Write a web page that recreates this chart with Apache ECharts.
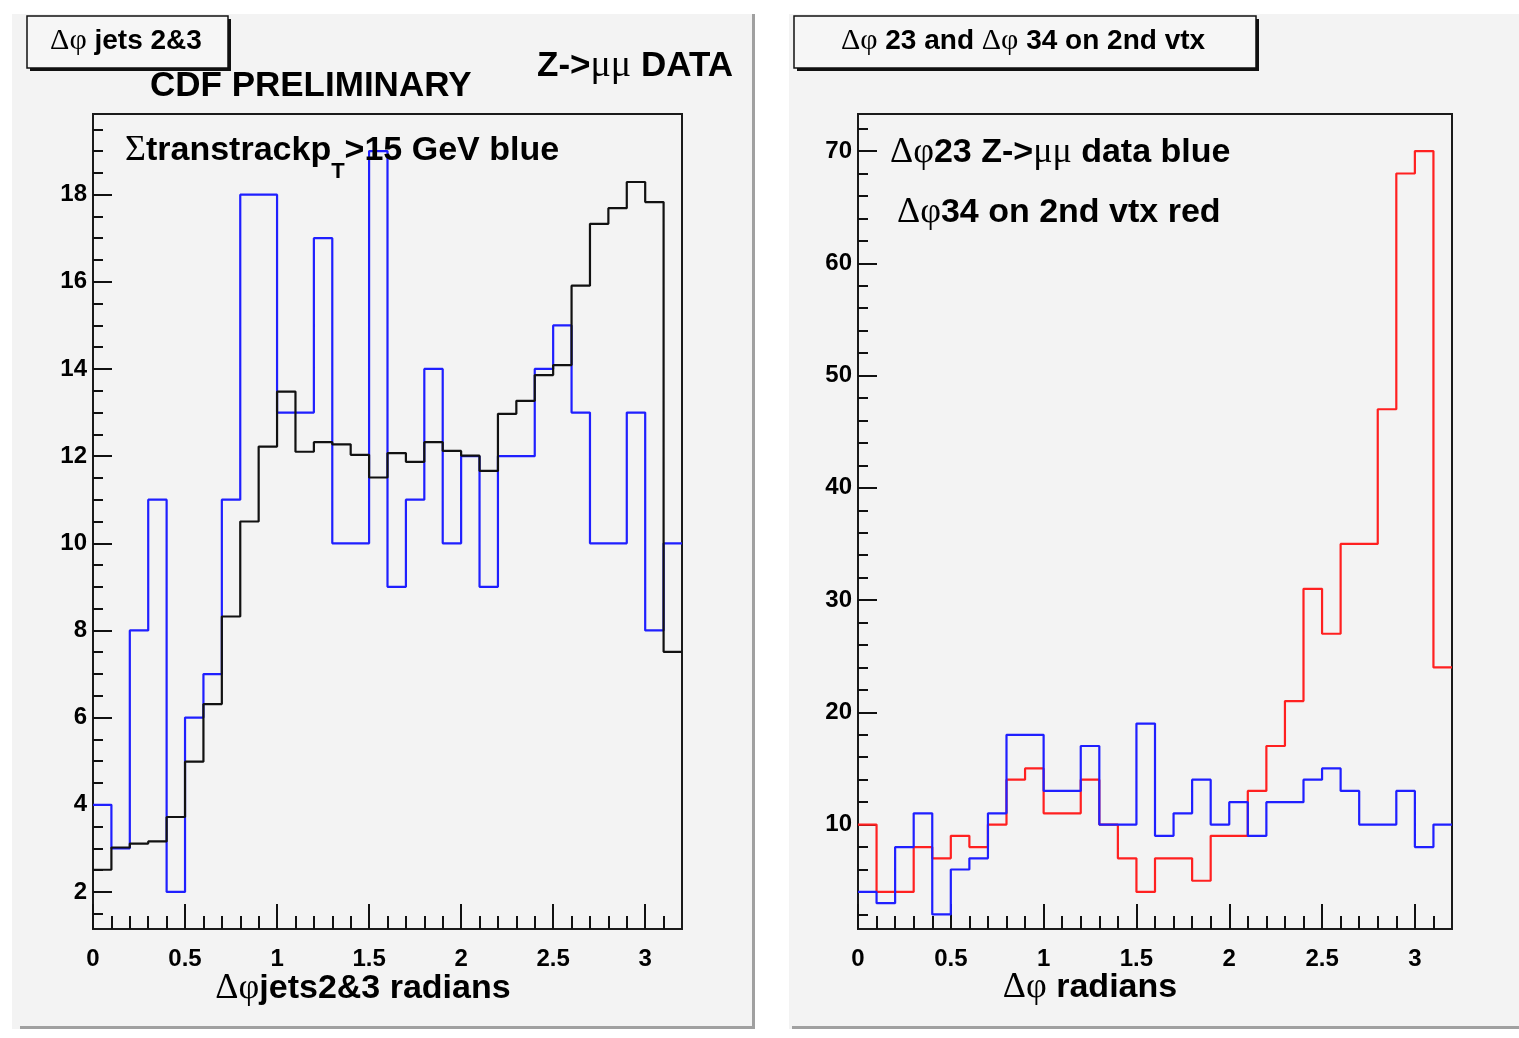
<!DOCTYPE html>
<html><head><meta charset="utf-8">
<script src="https://cdn.jsdelivr.net/npm/echarts@6/dist/echarts.min.js"></script>
<style>html,body{margin:0;padding:0;background:#fff}#c{width:1519px;height:1038px}</style>
</head><body><div id="c"></div>
<script>
// ---- data (bin lower edges, 0.1 rad wide bins) ----
const binLow = [0.0,0.1,0.2,0.3,0.4,0.5,0.6,0.7,0.8,0.9,1.0,1.1,1.2,1.3,1.4,1.5,1.6,1.7,1.8,1.9,2.0,2.1,2.2,2.3,2.4,2.5,2.6,2.7,2.8,2.9,3.0,3.1];
const binHigh = 3.2;
// left panel
const leftBlue  = [4,3,8,11,2,6,7,11,18,18,13,13,17,10,10,19,9,11,14,10,12,9,12,12,14,15,13,10,10,13,8,10];
const leftBlack = [2.51,3.02,3.11,3.16,3.72,4.99,6.31,8.32,10.50,12.22,13.48,12.10,12.32,12.27,12.03,11.51,12.07,11.87,12.32,12.12,12.01,11.66,12.97,13.27,13.86,14.09,15.91,17.33,17.69,18.29,17.83,7.51];
// right panel
const rightRed  = [10,4,4,8,7,9,8,10,14,15,11,11,14,10,7,4,7,7,5,9,9,13,17,21,31,27,35,35,47,68,70,24];
const rightBlue = [4,3,8,11,2,6,7,11,18,18,13,13,17,10,10,19,9,11,14,10,12,9,12,12,14,15,13,10,10,13,8,10];
// ticks
const xMajorTicks = [0,0.5,1,1.5,2,2.5,3];
const xMinorTicks = [0.1,0.2,0.3,0.4,0.6,0.7,0.8,0.9,1.1,1.2,1.3,1.4,1.6,1.7,1.8,1.9,2.1,2.2,2.3,2.4,2.6,2.7,2.8,2.9,3.1];
const yMajorLeft = [2,4,6,8,10,12,14,16,18];
const yMinorLeft = [1.5,2.5,3,3.5,4.5,5,5.5,6.5,7,7.5,8.5,9,9.5,10.5,11,11.5,12.5,13,13.5,14.5,15,15.5,16.5,17,17.5,18.5,19,19.5];
const yMajorRight = [10,20,30,40,50,60,70];
const yMinorRight = [2,4,6,8,12,14,16,18,22,24,26,28,32,34,36,38,42,44,46,48,52,54,56,58,62,64,66,68,72];
const leftRange = [1.15, 19.85];
const rightRange = [0.7, 73.3];

function hist(vals){ const d = binLow.map((x,i)=>[x, vals[i]]); d.push([binHigh, vals[vals.length-1]]); return d; }

const FONT = 'Liberation Sans';
const GREEK = 'Liberation Serif';
const labelStyle = {color:'#000', fontFamily:FONT, fontWeight:'bold', fontSize:24};

function xAxes(g){
  return [
    {gridIndex:g, type:'value', min:0, max:binHigh, position:'bottom',
     axisLine:{show:false}, splitLine:{show:false},
     axisTick:{show:true, inside:true, length:25, customValues:xMajorTicks, lineStyle:{color:'#111', width:2}},
     axisLabel:Object.assign({show:true, margin:18, customValues:xMajorTicks}, labelStyle)},
    {gridIndex:g, type:'value', min:0, max:binHigh, position:'bottom',
     axisLine:{show:false}, splitLine:{show:false},
     axisTick:{show:true, inside:true, length:13, customValues:xMinorTicks, lineStyle:{color:'#111', width:2}},
     axisLabel:{show:false}}
  ];
}
function yAxes(g, range, major, minor){
  return [
    {gridIndex:g, type:'value', min:range[0], max:range[1], position:'left',
     axisLine:{show:false}, splitLine:{show:false},
     axisTick:{show:true, inside:true, length:19, customValues:major, lineStyle:{color:'#111', width:2}},
     axisLabel:Object.assign({show:true, margin:6, customValues:major}, labelStyle)},
    {gridIndex:g, type:'value', min:range[0], max:range[1], position:'left',
     axisLine:{show:false}, splitLine:{show:false},
     axisTick:{show:true, inside:true, length:10, customValues:minor, lineStyle:{color:'#111', width:2}},
     axisLabel:{show:false}}
  ];
}
function line(xi, yi, data, color, z){
  return {type:'line', xAxisIndex:xi, yAxisIndex:yi, data:hist(data), step:'end', symbol:'none',
          lineStyle:{color:color, width:2.2}, z:z, silent:true, animation:false};
}
function txt(x, y, text, size, align, rich, extra){
  return Object.assign({type:'text', z:100, x:x, y:y, style:{text:text, fontFamily:FONT, fontWeight:'bold', fontSize:size,
    fill:'#000', align:align||'left', verticalAlign:'middle', rich:rich||{}}}, extra||{});
}
function gr(size){ return {g:{fontFamily:GREEK, fontWeight:'normal', fontSize:size, fill:'#000'}}; }

const chart = echarts.init(document.getElementById('c'), null, {renderer:'canvas'});
chart.setOption({
  animation:false,
  backgroundColor:'#ffffff',
  grid:[
    {left:93, top:114, width:589, height:815, show:true, borderColor:'#1a1a1a', borderWidth:2, backgroundColor:'transparent', containLabel:false},
    {left:858, top:114, width:594, height:815, show:true, borderColor:'#1a1a1a', borderWidth:2, backgroundColor:'transparent', containLabel:false}
  ],
  xAxis: xAxes(0).concat(xAxes(1)),
  yAxis: yAxes(0, leftRange, yMajorLeft, yMinorLeft).concat(yAxes(1, rightRange, yMajorRight, yMinorRight)),
  series:[
    line(0,0,leftBlue,'#1f1fff',3),
    line(0,0,leftBlack,'#111111',4),
    line(2,2,rightRed,'#ff2020',3),
    line(2,2,rightBlue,'#1f1fff',4)
  ],
  graphic:[
    // pads
    {type:'rect', z:-10, shape:{x:12,y:14,width:743,height:1015}, style:{fill:'#f3f3f3'}},
    {type:'rect', z:-9, shape:{x:752,y:14,width:3,height:1015}, style:{fill:'#a0a0a0'}},
    {type:'rect', z:-9, shape:{x:20,y:1026,width:735,height:3}, style:{fill:'#a0a0a0'}},
    {type:'rect', z:-10, shape:{x:789,y:14,width:730,height:1015}, style:{fill:'#f3f3f3'}},
    {type:'rect', z:-9, shape:{x:792,y:1026,width:727,height:3}, style:{fill:'#a0a0a0'}},
    // title boxes
    {type:'rect', z:50, shape:{x:30,y:19,width:201,height:52}, style:{fill:'#111'}},
    {type:'rect', z:51, shape:{x:27,y:16,width:201,height:52}, style:{fill:'#f6f6f6', stroke:'#111', lineWidth:1.5}},
    {type:'rect', z:50, shape:{x:797,y:19,width:462,height:52}, style:{fill:'#111'}},
    {type:'rect', z:51, shape:{x:794,y:16,width:462,height:52}, style:{fill:'#f6f6f6', stroke:'#111', lineWidth:1.5}},
    // texts
    txt(126, 41, '{g|Δφ} jets 2&3', 28, 'center', gr(30)),
    txt(1023, 41, '{g|Δφ} 23 and {g|Δφ} 34 on 2nd vtx', 28, 'center', gr(30)),
    txt(150, 86, 'CDF PRELIMINARY', 35, 'left'),
    txt(537, 66, 'Z->{g|μμ} DATA', 35, 'left', gr(38)),
    txt(125, 151, '{g|Σ}transtrackp{s|T}>15 GeV blue', 34, 'left',
        {g:{fontFamily:GREEK, fontWeight:'normal', fontSize:36, fill:'#000'},
         s:{fontFamily:FONT, fontWeight:'bold', fontSize:22, fill:'#000', padding:[42,0,0,0]}}),
    txt(890, 153, '{g|Δφ}23 Z->{g|μμ} data blue', 34, 'left', gr(36)),
    txt(897, 213, '{g|Δφ}34 on 2nd vtx red', 34, 'left', gr(36)),
    txt(363, 989, '{g|Δφ}jets2&3 radians', 34, 'center', gr(36)),
    txt(1090, 988, '{g|Δφ} radians', 34, 'center', gr(36))
  ]
});
</script></body></html>
